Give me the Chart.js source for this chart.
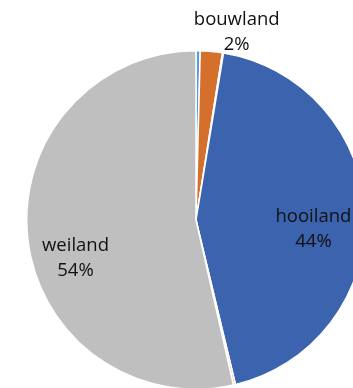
<!DOCTYPE html>
<html lang="nl">
<head>
  <meta charset="UTF-8">
  <title>Grondgebruik</title>
  <script src="https://cdn.jsdelivr.net/npm/chart.js"></script>
  <style>
    html, body {
      margin: 0;
      padding: 0;
      background: #fff;
      overflow: hidden;
    }
    #wrap {
      width: 380px;
      height: 390px;
    }
  </style>
</head>
<body>
  <div id="wrap">
    <canvas id="pie" width="380" height="390"></canvas>
  </div>

  <script>
    const categories = ['overig', 'bouwland', 'braak', 'hooiland', 'natuur', 'weiland'];
    const shares = [0.4, 2.1, 0.1, 43.65, 0.2, 53.55];
    const colors = ['#5B9BD5', '#D5702C', '#FFC000', '#3B63AE', '#F4B183', '#BFBFBF'];
    const labelled = ['bouwland', 'hooiland', 'weiland'];

    // waar de labels staan: hoek (graden vanaf boven, met de klok mee) en afstand in straal
    const labelSpots = {
      bouwland: { angle: 12.2, dist: 1.138 },
      hooiland: { angle: 94.4, dist: 0.696 },
      weiland: { angle: 252.6, dist: 0.746 }
    };

    const sliceLabels = {
      id: 'sliceLabels',
      afterDatasetsDraw(chart) {
        const ctx = chart.ctx;
        const meta = chart.getDatasetMeta(0);
        const data = chart.data.datasets[0].data;
        const total = data.reduce((a, b) => a + b, 0);
        ctx.save();
        ctx.font = '18.5px "Open Sans", sans-serif';
        ctx.fillStyle = '#111';
        ctx.textAlign = 'center';
        ctx.textBaseline = 'middle';
        meta.data.forEach((arc, i) => {
          const name = chart.data.labels[i];
          if (!labelled.includes(name)) return;
          const spot = labelSpots[name];
          const rad = spot.angle * Math.PI / 180;
          const x = arc.x + Math.sin(rad) * arc.outerRadius * spot.dist;
          const y = arc.y - Math.cos(rad) * arc.outerRadius * spot.dist;
          const pct = Math.round(data[i] / total * 100) + '%';
          ctx.fillText(name, x, y - 12.5);
          ctx.fillText(pct, x, y + 12.5);
        });
        ctx.restore();
      }
    };

    new Chart(document.getElementById('pie'), {
      type: 'pie',
      data: {
        labels: categories,
        datasets: [{
          data: shares,
          backgroundColor: colors,
          borderColor: '#ffffff',
          borderWidth: 1.5
        }]
      },
      options: {
        responsive: false,
        animation: false,
        layout: {
          padding: { left: 26, top: 50, right: 14, bottom: 0 }
        },
        plugins: {
          legend: { display: false },
          tooltip: { enabled: false }
        }
      },
      plugins: [sliceLabels]
    });
  </script>
</body>
</html>
